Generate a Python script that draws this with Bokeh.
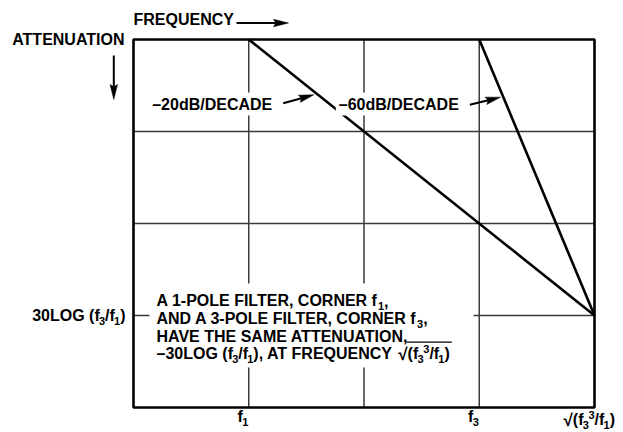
from bokeh.plotting import figure
from bokeh.models import Range1d, Label
from bokeh.embed import file_html
from bokeh.resources import INLINE
import math

# ---------------- data ----------------
# x: frequency in decades (log scale): f1 -> 1, f3 -> 3, sqrt(f3^3/f1) -> 4
# y: attenuation (dB, 20 dB per division, growing downward)
decade_limits = [0, 4]
atten_limits = [0, 80]
grid_x = [1, 2, 3]
grid_y = [20, 40, 60]
pole1_freq = [1, 4]
pole1_atten = [0, 60]
pole3_freq = [3, 4]
pole3_atten = [0, 60]
# "_d" = subscript digit, "^d" = superscript digit
x_tick_values = [1, 3, 4]
x_tick_labels = ["f_1", "f_3", "√(f_3^3/f_1)"]
y_tick_values = [60]
y_tick_labels = ["30LOG (f_3/f_1)"]
axis_titles = ["FREQUENCY", "ATTENUATION"]
slope_labels = ["–20dB/DECADE", "–60dB/DECADE"]
note_lines = [
    "A 1-POLE FILTER, CORNER f_1,",
    "AND A 3-POLE FILTER, CORNER f_3,",
    "HAVE THE SAME ATTENUATION,",
    "–30LOG (f_3/f_1), AT FREQUENCY √(f_3^3/f_1)",
]

# ---------------- layout ----------------
W, H = 623, 432
BOX_L, BOX_R, BOX_T, BOX_B = 133, 594, 39, 407   # chart box in page pixels
sx = (BOX_R - BOX_L) / (decade_limits[1] - decade_limits[0])
sy = (BOX_B - BOX_T) / (atten_limits[1] - atten_limits[0])
x_start = decade_limits[0] - BOX_L / sx
x_end = decade_limits[1] + (W - BOX_R) / sx
y_top = atten_limits[0] - BOX_T / sy
y_bot = atten_limits[1] + (H - BOX_B) / sy


def X(px):  # page pixel -> data x
    return decade_limits[0] + (px - BOX_L) / sx


def Y(py):  # page pixel -> data y
    return atten_limits[0] + (py - BOX_T) / sy


def PX(x):  # data x -> page pixel
    return BOX_L + (x - decade_limits[0]) * sx


FONT = "Liberation Sans"
FS = 16        # main text size (px)
FS_SUB = 11    # sub/superscript size
FS_RAD = 17    # radical sign size
BASE_FIX = 0.30  # empirical baseline correction (em)

# Arial/Liberation Sans Bold advance widths (1/1000 em)
ADV = {" ": 278, "(": 333, ")": 333, ",": 278, "-": 333, ".": 278, "/": 278,
       "–": 556, "√": 549, "A": 722, "B": 722, "C": 722, "D": 722, "E": 667,
       "F": 611, "G": 778, "H": 722, "I": 278, "L": 611, "M": 833, "N": 722,
       "O": 778, "P": 667, "Q": 778, "R": 722, "S": 667, "T": 611, "U": 722,
       "V": 667, "Y": 667, "d": 611, "f": 333}
for ch in "0123456789":
    ADV[ch] = 556

p = figure(width=W, height=H, x_range=Range1d(x_start, x_end),
           y_range=Range1d(y_bot, y_top), output_backend="svg",
           toolbar_location=None, x_axis_location=None, y_axis_location=None,
           min_border=0, outline_line_color=None,
           background_fill_color="white", border_fill_color="white")
p.xgrid.visible = False
p.ygrid.visible = False

GRID_COLOR = "#3a3a3a"
n = len(grid_x)
p.segment(x0=grid_x, y0=[atten_limits[0]] * n, x1=grid_x, y1=[atten_limits[1]] * n,
          line_color=GRID_COLOR, line_width=1.5)
m = len(grid_y)
p.segment(x0=[decade_limits[0]] * m, y0=grid_y, x1=[decade_limits[1]] * m, y1=grid_y,
          line_color=GRID_COLOR, line_width=1.5)

# white panel behind the note (masks the grid, as in the original figure)
p.quad(left=[X(149)], right=[X(473)], top=[Y(283)], bottom=[Y(367)],
       fill_color="white", line_color=None)

p.quad(left=[decade_limits[0]], right=[decade_limits[1]], top=[atten_limits[0]],
       bottom=[atten_limits[1]], fill_color=None, line_color="black", line_width=2.6)

p.line(pole1_freq, pole1_atten, line_color="black", line_width=2.6)
p.line(pole3_freq, pole3_atten, line_color="black", line_width=2.6)


def arrow(x0, y0, x1, y1, head_len=15.0, head_w=7.5, lw=2.0):
    dx, dy = x1 - x0, y1 - y0
    L = math.hypot(dx, dy)
    ux, uy = dx / L, dy / L
    bx, by = x1 - ux * head_len * 0.85, y1 - uy * head_len * 0.85
    hx, hy = x1 - ux * head_len, y1 - uy * head_len
    p.line([X(x0), X(bx)], [Y(y0), Y(by)], line_color="black", line_width=lw)
    px_ = [x1, hx - uy * head_w / 2, bx, hx + uy * head_w / 2]
    py_ = [y1, hy + ux * head_w / 2, by, hy - ux * head_w / 2]
    p.patch([X(v) for v in px_], [Y(v) for v in py_], fill_color="black",
            line_color="black", line_width=0.5)


arrow(236, 22.5, 288, 22.5)
arrow(113.3, 55, 113.3, 99)
arrow(282.7, 102.7, 313.3, 94.3)
arrow(469.3, 104.3, 500, 96.7)


def label(x_px, base_px, text, size=FS, align="left", pad=0, **kw):
    kw2 = dict(kw)
    if pad:
        kw2.update(background_fill_color="white", padding=pad)
        x_px = x_px - pad if align == "left" else x_px + pad
    lab = Label(x=X(x_px), y=Y(base_px - BASE_FIX * size), text=text,
                text_align=align, text_baseline="alphabetic",
                text_font=FONT, text_font_style="bold", text_font_size=f"{size}px",
                text_color="black", **kw2)
    p.add_layout(lab)
    return lab


def runs(s):
    out = []
    i = 0
    while i < len(s):
        c = s[i]
        if c in "_^" and i + 1 < len(s):
            kind, ch = ("sub" if c == "_" else "sup"), s[i + 1]
            i += 2
        elif c == "√":
            kind, ch = "rad", c
            i += 1
        else:
            kind, ch = "n", c
            i += 1
        if out and out[-1][0] == kind and kind != "rad":
            out[-1][1] += ch
        else:
            out.append([kind, ch])
    return out


SIZE = {"n": FS, "sub": FS_SUB, "sup": FS_SUB, "rad": FS_RAD}
SHIFT = {"n": 0, "sub": 4, "sup": -6, "rad": 1}
KERN = {"sub": -0.8, "sup": -0.3, "n": 0, "rad": 0}


def width(kind, t):
    return sum(ADV.get(c, 556) for c in t) * SIZE[kind] / 1000.0


def rich(x, base, s, align="left", overline=True):
    rs = runs(s)
    total = sum(width(k, t) + KERN[k] for k, t in rs)
    cur = x - total if align == "right" else x
    rad_end = None
    for k, t in rs:
        cur += KERN[k]
        label(cur, base + SHIFT[k], t, size=SIZE[k])
        cur += width(k, t)
        if k == "rad":
            rad_end = cur
    if rad_end is not None and overline:
        p.line([X(rad_end - 1.2), X(cur + 2)], [Y(base - 16.5)] * 2,
               line_color="black", line_width=1.4)
    return cur


label(133, 24, axis_titles[0])
label(124, 43.3, axis_titles[1], align="right")

label(151.7, 108.3, slope_labels[0], pad=3)
label(338.3, 108.3, slope_labels[1], pad=3)

for i, line in enumerate(note_lines):
    rich(156, 305 + 17.7 * i, line)

for v, t in zip(y_tick_values, y_tick_labels):
    rich(125, 320, t, align="right")

for v, t in zip(x_tick_values[:2], x_tick_labels[:2]):
    rich(PX(v) - 0.5, 421, t, align="right")
rich(563, 424, x_tick_labels[2], overline=False)

open("out.html", "w").write(file_html(p, INLINE))
